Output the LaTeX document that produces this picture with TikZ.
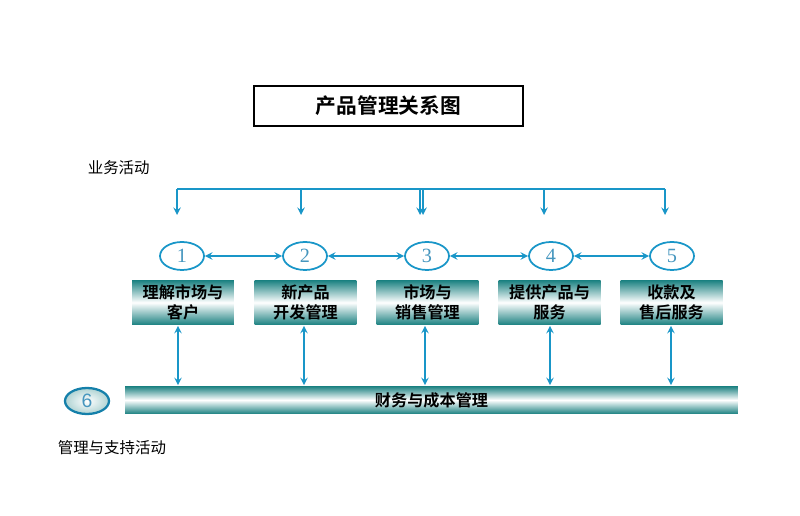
\documentclass[tikz,border=0pt]{standalone}
\usepackage{fontspec}
\setmainfont{Liberation Serif}
\setsansfont{Liberation Sans}
\newfontfamily\cjk{Noto Sans CJK SC}
\newfontfamily\cjkbold{Noto Sans CJK SC Bold}
\usetikzlibrary{shapes.geometric,arrows}
\definecolor{linkblue}{RGB}{25,150,200}
\definecolor{boxteal}{RGB}{25,128,128}
\definecolor{numblue}{RGB}{70,150,190}

\begin{document}
\begin{tikzpicture}[x=0.02cm,y=-0.02cm,>=stealth,line width=0.9pt,
    box node/.style={top color=boxteal,bottom color=boxteal,middle color=white,
      minimum width=2.04cm,minimum height=0.9cm,inner sep=0pt,align=center,
      font=\cjkbold\fontsize{9.2}{11.4}\selectfont},
    num node/.style={ellipse,draw=linkblue,line width=1pt,minimum width=0.88cm,
      minimum height=0.56cm,inner sep=0pt,text=numblue,font=\fontsize{11.5}{11.5}\selectfont},
    text node/.style={anchor=west,inner sep=0pt,font=\cjk\fontsize{8.8}{10}\selectfont}]

  \useasboundingbox (0,0) rectangle (800,516);

  % title
  \node[draw,line width=0.8pt,minimum width=5.38cm,minimum height=0.8cm,
        font=\cjkbold\fontsize{11.8}{12}\selectfont] (title) at (388.5,106) {产品管理关系图};

  \node[text node] (biz) at (87,168) {业务活动};
  \node[text node] (mgmt) at (57,448) {管理与支持活动};

  % business steps
  \node[num node] (N1) at (182,256) {1};
  \node[num node] (N2) at (305,256) {2};
  \node[num node] (N3) at (427,256) {3};
  \node[num node] (N4) at (551,256) {4};
  \node[num node] (N5) at (672,256) {5};

  \node[box node] (B1) at (183,302.5) {理解市场与\\客户};
  \node[box node] (B2) at (305.5,302.5) {新产品\\开发管理};
  \node[box node] (B3) at (427.5,302.5) {市场与\\销售管理};
  \node[box node] (B4) at (549.5,302.5) {提供产品与\\服务};
  \node[box node] (B5) at (671.5,302.5) {收款及\\售后服务};

  % support
  \node[box node,minimum width=12.26cm,minimum height=0.56cm] (bar) at (431.5,400) {财务与成本管理};
  \node[num node,inner color=white,outer color=boxteal!35,draw=linkblue!85!black,
        line width=1.3pt,minimum height=0.52cm,font=\sffamily\fontsize{11}{11}\selectfont] (N6) at (87,401) {6};

  % top bus
  \coordinate (T1) at (177,189);  \coordinate (D1) at (177,215);
  \coordinate (T2) at (301,189);  \coordinate (D2) at (301,215);
  \coordinate (T3) at (420,189);  \coordinate (D3) at (420,215);
  \coordinate (T3b) at (423,189); \coordinate (D3b) at (423,215);
  \coordinate (T4) at (544,189);  \coordinate (D4) at (544,215);
  \coordinate (T5) at (665,189);  \coordinate (D5) at (665,215);

  \draw[linkblue] (T1) -- (T5);
  \path[->,color=linkblue]
    (T1) edge (D1)
    (T2) edge (D2)
    (T3) edge (D3)
    (T3b) edge (D3b)
    (T4) edge (D4)
    (T5) edge (D5);

  \path[<->,color=linkblue]
    (N1) edge (N2)
    (N2) edge (N3)
    (N3) edge (N4)
    (N4) edge (N5);

  \path[<->,color=linkblue]
    ([xshift=-0.1cm]B1.south) edge ([xshift=-0.1cm]B1.south |- bar.north)
    ([xshift=-0.03cm]B2.south) edge ([xshift=-0.03cm]B2.south |- bar.north)
    ([xshift=-0.05cm]B3.south) edge ([xshift=-0.05cm]B3.south |- bar.north)
    ([xshift=0.01cm]B4.south) edge ([xshift=0.01cm]B4.south |- bar.north)
    ([xshift=-0.01cm]B5.south) edge ([xshift=-0.01cm]B5.south |- bar.north);
\end{tikzpicture}
\end{document}
